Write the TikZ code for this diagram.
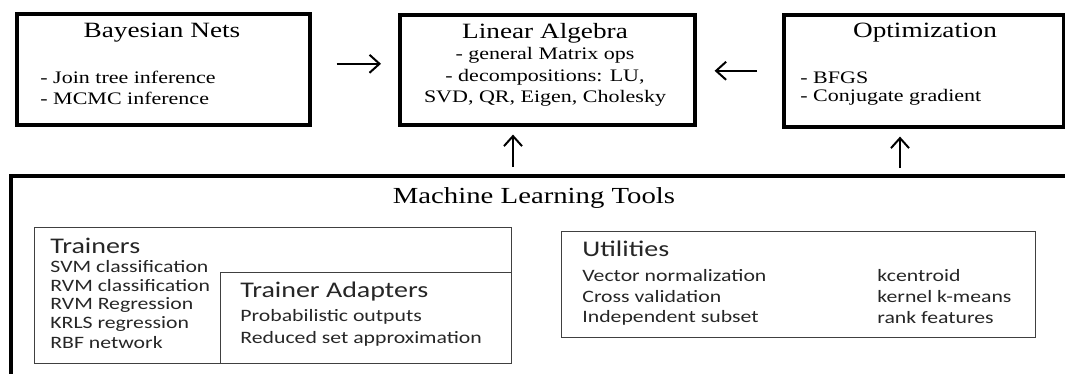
\documentclass[tikz,border=0pt]{standalone}
\usepackage{fontspec}
\setmainfont{Liberation Serif}[FakeStretch=1.25]
\newfontfamily\calibri{Carlito}[FakeStretch=1.25]
\usetikzlibrary{arrows.meta}

\begin{document}
\begin{tikzpicture}[x=0.5pt, y=-0.5pt,
  bigbox/.style={draw, line width=1.8pt, anchor=north west, inner sep=0pt},
  smallbox/.style={draw=black!75, line width=0.7pt, anchor=north west, inner sep=0pt},
  head/.style={font=\fontsize{10.9}{13}\selectfont},
  item/.style={font=\fontsize{8.8}{10.5}\selectfont, inner sep=0pt},
  shead/.style={font=\calibri\fontsize{11.2}{13}\selectfont, text=black!85, anchor=west, inner sep=0pt},
  sitem/.style={font=\calibri\fontsize{8.7}{10.5}\selectfont, text=black!85, anchor=west, inner sep=0pt},
  arr/.style={line width=1pt, -{Straight Barb[length=5pt, width=9pt]}}]
\useasboundingbox (0,0) rectangle (1065,374);
\clip (0,0) rectangle (1065,374);
\node[bigbox, minimum width=146.5pt, minimum height=55.5pt] (bayes) at (15,12) {};
\node[bigbox, minimum width=147.5pt, minimum height=55pt] (linalg) at (398,13) {};
\node[bigbox, minimum width=140pt, minimum height=56pt] (optim) at (782,13) {};
\node[bigbox, minimum width=540pt, minimum height=120pt] (mltools) at (9,174) {};
\node[head] (bayest) at (162,33) {Bayesian Nets};
\node[item, anchor=west] (bayes1) at (40,77) {- Join tree inference};
\node[item, anchor=west] (bayes2) at (40,98) {- MCMC inference};
\node[head] (linalgt) at (545,33) {Linear Algebra};
\node[item] (linalg1) at (545,55) {- general Matrix ops};
\node[item] (linalg2) at (545,77) {- decompositions: LU,};
\node[item] (linalg3) at (545,98) {SVD, QR, Eigen, Cholesky};
\node[head] (optimt) at (925,33) {Optimization};
\node[item, anchor=west] (optim1) at (800,78) {- BFGS};
\node[item, anchor=west] (optim2) at (800,97) {- Conjugate gradient};
\draw[arr, shorten <=12.5pt, shorten >=8.5pt] ([yshift=2.75pt]bayes.east) -- ([yshift=2.75pt]bayes.east -| linalg.west);
\draw[arr, shorten <=12.5pt, shorten >=9pt] (optim.west) -- (optim.west -| linalg.east);
\coordinate (up1) at (513,174);
\coordinate (up2) at (900,174);
\draw[arr, shorten <=3.5pt, shorten >=4pt] (up1) -- (up1 |- linalg.south);
\draw[arr, shorten <=3pt, shorten >=4pt] (up2) -- (up2 |- optim.south);
\node[font=\fontsize{11.5}{14}\selectfont] (mlt) at (534,198) {Machine Learning Tools};
\node[smallbox, minimum width=238.5pt, minimum height=68pt] (trainers) at (34,227) {};
\node[smallbox, minimum width=145.5pt, minimum height=45.5pt] (adapters) at (220,272) {};
\node[smallbox, minimum width=237pt, minimum height=53pt] (utils) at (561,231) {};
\node[shead] (trainerst) at (50,246) {Trainers};
\foreach \t [count=\i] in {SVM classification, RVM classification, RVM Regression, KRLS regression, RBF network}
  \node[sitem] (train\i) at (50,248+19*\i) {\t};
\node[shead] (adapterst) at (240,292) {Trainer Adapters};
\node[sitem] (adapt1) at (240,317) {Probabilistic outputs};
\node[sitem] (adapt2) at (240,339) {Reduced set approximation};
\node[shead] (utilst) at (582,249) {Utilities};
\foreach \a/\b [count=\i] in {Vector normalization/kcentroid, Cross validation/kernel k-means, Independent subset/rank features} {
  \node[sitem] (utila\i) at (582,255+21*\i) {\a};
  \node[sitem] (utilb\i) at (877,255+21*\i) {\b};
}
\end{tikzpicture}
\end{document}
